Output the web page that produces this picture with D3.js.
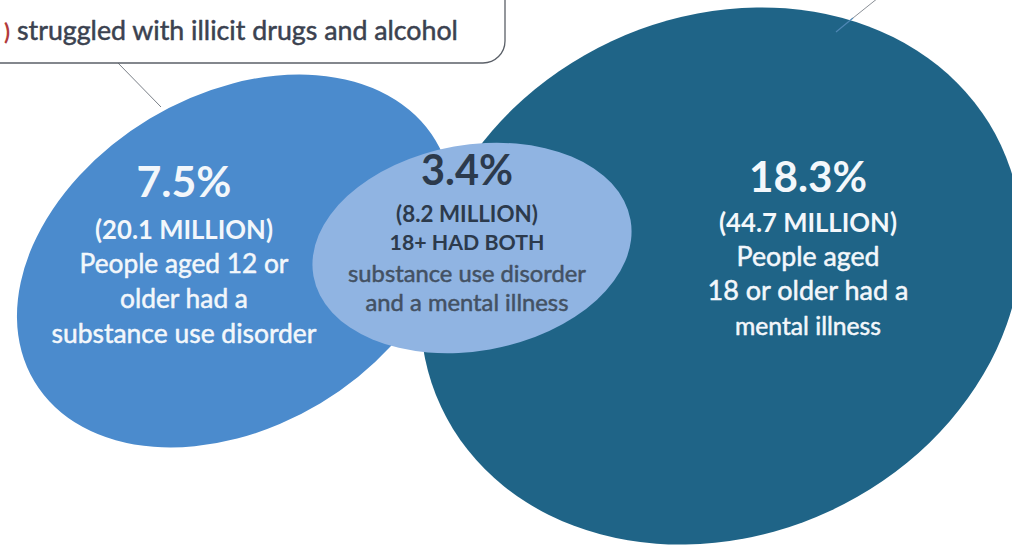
<!DOCTYPE html>
<html>
<head>
<meta charset="utf-8">
<script src="https://cdn.jsdelivr.net/npm/d3@7"></script>
<style>
  html, body { margin: 0; padding: 0; background: #ffffff; }
  svg { display: block; }
</style>
</head>
<body>
<svg id="chart" width="1012" height="547"></svg>
<script>
// ---- data ----
const groups = ["substance", "mental", "both"];
const percents = [7.5, 18.3, 3.4];
const millions = [20.1, 44.7, 8.2];
const qualifiers = [[], [], ["18+ HAD BOTH"]];
const descriptions = [
  ["People aged 12 or", "older had a", "substance use disorder"],
  ["People aged", "18 or older had a", "mental illness"],
  ["substance use disorder", "and a mental illness"]
];
const calloutText = "struggled with illicit drugs and alcohol";

// ---- layout ----
const W = 1012, H = 547;
const FONT = "Lato, 'Open Sans', sans-serif";

// ellipse geometry and colour per group
const shapes = {
  substance: { cx: 235, cy: 261, rx: 234, ry: 166, rot: -31, fill: "#4b8bcd" },
  mental:    { cx: 721, cy: 276, rx: 309, ry: 259, rot: -25, fill: "#1f6487" },
  both:      { cx: 472, cy: 248, rx: 161, ry: 103, rot: -10, fill: "#90b4e2" }
};

// text block per group: centre x, baselines and widths of each line
const blocks = {
  substance: { x: 184, color: "#f3f7fb", soft: "#f3f7fb",
    big: { y: 197, w: 95 }, bold: [{ y: 239, w: 178 }],
    norm: [{ y: 273, w: 209 }, { y: 308, w: 128 }, { y: 343, w: 265 }] },
  mental: { x: 808, color: "#f3f7fb", soft: "#f3f7fb",
    big: { y: 192, w: 118 }, bold: [{ y: 232, w: 178 }],
    norm: [{ y: 266, w: 143 }, { y: 300, w: 201 }, { y: 335, w: 146 }] },
  both: { x: 467, color: "#2c3a4c", soft: "#435163",
    big: { y: 185, w: 92 }, bold: [{ y: 222, w: 142 }, { y: 250, w: 155 }],
    norm: [{ y: 282, w: 238 }, { y: 311, w: 203 }] }
};

const svg = d3.select("#chart");
svg.append("rect").attr("width", W).attr("height", H).attr("fill", "#ffffff");

// callout box (partly outside the frame) with its leader line
const callout = svg.append("g");
callout.append("line")
  .attr("x1", 118).attr("y1", 63).attr("x2", 161).attr("y2", 107)
  .attr("stroke", "#7a7f87").attr("stroke-width", 1);
callout.append("rect")
  .attr("x", -30).attr("y", -40).attr("width", 535).attr("height", 103)
  .attr("rx", 22).attr("ry", 22)
  .attr("fill", "#ffffff").attr("stroke", "#5b6068").attr("stroke-width", 1.3);

// leader line entering the large ellipse from the top right
svg.append("line")
  .attr("x1", 878).attr("y1", -2).attr("x2", 853).attr("y2", 18)
  .attr("stroke", "#8a8f96").attr("stroke-width", 1);

// ellipses
const line = d3.line();
const ellipseGroup = svg.append("g");
groups.forEach(g => {
  const s = shapes[g];
  ellipseGroup.append("ellipse")
    .attr("cx", 0).attr("cy", 0)
    .attr("rx", s.rx).attr("ry", s.ry)
    .attr("transform", `translate(${s.cx},${s.cy}) rotate(${s.rot})`)
    .attr("fill", s.fill);
});
svg.append("path")
  .attr("d", line([[853, 18], [836, 32]]))
  .attr("stroke", "#4f87b5").attr("stroke-width", 1.2).attr("fill", "none");

// fit a text element to a target width by adjusting its font-size
function fitText(sel, target, base) {
  sel.attr("font-size", base);
  const len = sel.node().getComputedTextLength();
  if (len > 0) sel.attr("font-size", base * target / len);
}

// slightly heavier strokes for regular-weight lines
function thicken(sel, color, w) {
  sel.attr("stroke", color).attr("stroke-width", w).attr("stroke-linejoin", "round");
}

const fmt = d3.format(".1f");
groups.forEach((g, i) => {
  const b = blocks[g];
  const tg = svg.append("g").attr("font-family", FONT).attr("text-anchor", "middle");

  const big = tg.append("text")
    .attr("x", b.x).attr("y", b.big.y)
    .attr("font-weight", 700).attr("fill", b.color)
    .text(fmt(percents[i]) + "%");
  fitText(big, b.big.w, 34);

  const boldLines = [`(${fmt(millions[i])} MILLION)`].concat(qualifiers[i]);
  boldLines.forEach((t, j) => {
    const el = tg.append("text")
      .attr("x", b.x).attr("y", b.bold[j].y)
      .attr("font-weight", 700).attr("fill", b.color)
      .text(t);
    fitText(el, b.bold[j].w, 20);
  });

  descriptions[i].forEach((t, j) => {
    const el = tg.append("text")
      .attr("x", b.x).attr("y", b.norm[j].y)
      .attr("font-weight", 400).attr("fill", b.soft)
      .text(t);
    fitText(el, b.norm[j].w, 20);
    thicken(el, b.soft, 0.5);
  });
});

// callout text
const ct = svg.append("g").attr("font-family", FONT);
ct.append("text")
  .attr("x", 10).attr("y", 40).attr("text-anchor", "end")
  .attr("fill", "#b23b3b").attr("font-weight", 700).attr("font-size", 22)
  .text(")");
const cl = ct.append("text")
  .attr("x", 17).attr("y", 40)
  .attr("fill", "#3b4250").attr("font-weight", 400)
  .text(calloutText);
fitText(cl, 441, 22);
thicken(cl, "#3b4250", 0.5);
</script>
</body>
</html>
